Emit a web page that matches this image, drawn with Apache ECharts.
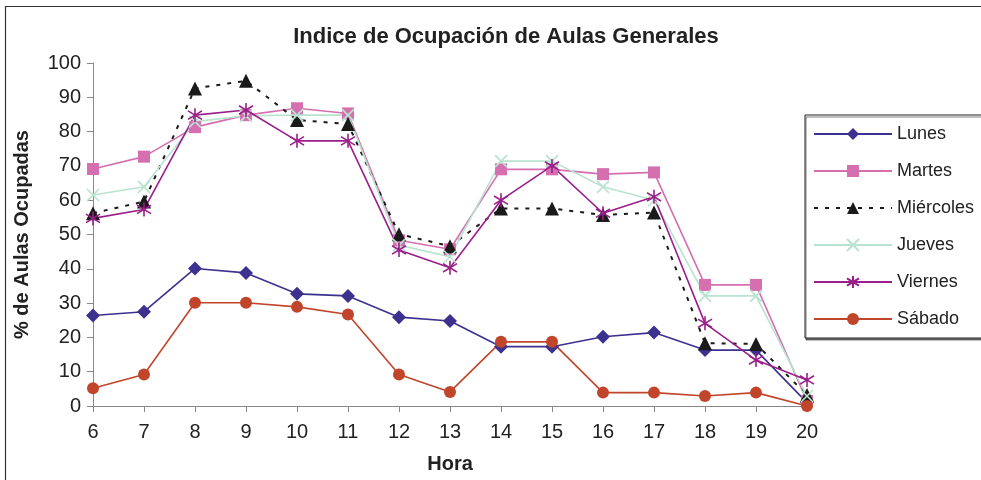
<!DOCTYPE html>
<html>
<head>
<meta charset="utf-8">
<script src="https://cdn.jsdelivr.net/npm/echarts@6/dist/echarts.min.js"></script>
<style>
  html, body { margin: 0; padding: 0; background: #fff; }
  #chart { width: 981px; height: 480px; }
</style>
</head>
<body>
<div id="chart"></div>
<script>
// horas
const horas = ['6', '7', '8', '9', '10', '11', '12', '13', '14', '15', '16', '17', '18', '19', '20'];

// % de aulas ocupadas por dia
const lunes     = [26.4, 27.5, 40.1, 38.8, 32.7, 32.1, 25.9, 24.8, 17.3, 17.3, 20.2, 21.4, 16.3, 16.3, 1];
const martes    = [69.1, 72.7, 81.3, 84.8, 86.8, 85.3, 48.3, 45.7, 69.0, 69.0, 67.6, 68.1, 35.3, 35.3, 1.5];
const miercoles = [56.2, 59.6, 92.6, 94.8, 83.4, 82.2, 50.1, 46.6, 57.6, 57.6, 55.7, 56.4, 18.3, 18.1, 3.2];
const jueves    = [61.5, 63.9, 82.9, 84.6, 84.8, 84.8, 46.9, 43.5, 71.4, 71.4, 63.9, 60.0, 32.1, 32.1, 2.9];
const viernes   = [54.7, 57.3, 84.8, 86.3, 77.3, 77.3, 45.5, 40.3, 60.0, 70.0, 56.2, 61.0, 24.1, 13.4, 7.6];
const sabado    = [5.2, 9.2, 30.1, 30.1, 28.9, 26.7, 9.2, 4.1, 18.7, 18.7, 3.9, 3.9, 2.9, 3.9, 0];

const fuente = "'Liberation Sans', Arial, sans-serif";
const pathX = 'path://M0,0L10,10M10,0L0,10';
const pathAst = 'path://M5,0L5,10M0,2L10,8M0,8L10,2';

let myChart = echarts.init(document.getElementById('chart'));

function serie(nombre, datos, color, simbolo, tam, extra) {
    let s = {
        name: nombre,
        type: 'line',
        data: datos,
        symbol: simbolo,
        symbolSize: tam,
        showAllSymbol: true,
        animation: false,
        lineStyle: { color: color, width: 1.6 },
        itemStyle: { color: color }
    };
    return Object.assign(s, extra || {});
}

myChart.setOption({
    backgroundColor: '#fff',
    title: {
        text: 'Indice de Ocupación de Aulas Generales',
        left: 501,
        textAlign: 'center',
        top: 21,
        textStyle: { fontFamily: fuente, fontSize: 22, fontWeight: 'bold', color: '#222' }
    },
    graphic: [{
        type: 'rect',
        shape: { x: 5.5, y: 6.5, width: 1000, height: 500 },
        style: { fill: null, stroke: '#333', lineWidth: 1.2 },
        silent: true,
        z: -1
    }],
    legend: {
        orient: 'vertical',
        left: 805,
        top: 115,
        padding: [10, 40, 10, 8],
        itemWidth: 78,
        itemHeight: 15,
        itemGap: 19,
        borderColor: '#222',
        borderWidth: 1,
        shadowColor: 'rgba(0,0,0,0.5)',
        shadowOffsetX: 1,
        shadowOffsetY: 2,
        backgroundColor: '#fff',
        textStyle: { fontFamily: fuente, fontSize: 18, color: '#222' },
        data: ['Lunes', 'Martes', 'Miércoles', 'Jueves', 'Viernes', 'Sábado']
    },
    grid: { left: 93, right: 174, top: 63, bottom: 74 },
    xAxis: {
        type: 'category',
        data: horas,
        boundaryGap: false,
        name: 'Hora',
        nameLocation: 'middle',
        nameGap: 48,
        nameTextStyle: { fontFamily: fuente, fontSize: 20, fontWeight: 'bold', color: '#222' },
        axisLine: { lineStyle: { color: '#888' } },
        axisTick: { show: true, alignWithLabel: true, length: 6, lineStyle: { color: '#888' } },
        axisLabel: { fontFamily: fuente, fontSize: 20, color: '#222', margin: 16 },
        splitLine: { show: false }
    },
    yAxis: {
        type: 'value',
        min: 0,
        max: 100,
        interval: 10,
        name: '% de Aulas Ocupadas',
        nameLocation: 'middle',
        nameGap: 61,
        nameTextStyle: { fontFamily: fuente, fontSize: 20, fontWeight: 'bold', color: '#222' },
        axisLine: { show: true, lineStyle: { color: '#888' } },
        axisTick: { show: true, length: 6, lineStyle: { color: '#888' } },
        axisLabel: { fontFamily: fuente, fontSize: 20, color: '#222', margin: 12 },
        splitLine: { show: false }
    },
    series: [
        serie('Lunes', lunes, '#3d3190', 'diamond', 14),
        serie('Martes', martes, '#d56fb0', 'rect', 12),
        serie('Miércoles', miercoles, '#1a1a1a', 'triangle', 14, {
            lineStyle: { color: '#1a1a1a', width: 2, type: [4, 7] }
        }),
        serie('Jueves', jueves, '#b8e3cf', pathX, 12, {
            itemStyle: { color: '#b8e3cf', borderColor: '#b8e3cf', borderWidth: 1.6 }
        }),
        serie('Viernes', viernes, '#9a1f8a', pathAst, 14, {
            itemStyle: { color: '#9a1f8a', borderColor: '#9a1f8a', borderWidth: 1.6 }
        }),
        serie('Sábado', sabado, '#c1452b', 'circle', 12)
    ]
});
window.addEventListener('resize', () => myChart.resize());
</script>
</body>
</html>
